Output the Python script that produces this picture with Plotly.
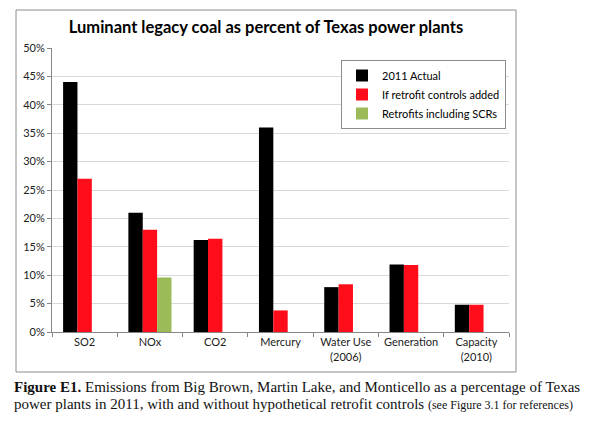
import plotly.graph_objects as go

categories = ["SO2", "NOx", "CO2", "Mercury", "Water Use<br>(2006)", "Generation", "Capacity<br>(2010)"]
actual_2011 = [44.0, 21.0, 16.2, 36.0, 7.9, 11.9, 4.8]
retrofit = [27.0, 18.0, 16.4, 3.8, 8.4, 11.8, 4.8]
retrofit_scr = [None, 9.6, None, None, None, None, None]
y_ticks = [0, 5, 10, 15, 20, 25, 30, 35, 40, 45, 50]
y_tick_labels = [f"{v}%" for v in y_ticks]

W, H = 607, 439
L, R, T, B = 52, 98, 48, 107
pw, ph = W - L - R, H - T - B

def px(x):
    return (x - L) / pw

def py(y):
    return (H - B - y) / ph

fig = go.Figure()
fig.add_trace(go.Bar(x=categories, y=actual_2011, name="2011 Actual", marker_color="#000000", marker_line_width=0))
fig.add_trace(go.Bar(x=categories, y=retrofit, name="If retrofit controls added", marker_color="#FF0D1A", marker_line_width=0))
fig.add_trace(go.Bar(x=categories, y=retrofit_scr, name="Retrofits including SCRs", marker_color="#9BBB59", marker_line_width=0))

font_sans = "Lato, 'Open Sans', sans-serif"
fig.update_layout(
    width=W, height=H,
    margin=dict(l=L, r=R, t=T, b=B),
    paper_bgcolor="white", plot_bgcolor="white",
    barmode="group", bargap=0.34, bargroupgap=0,
    font=dict(family=font_sans, size=11, color="#222222"),
    title=dict(text="<b>Luminant legacy coal as percent of Texas power plants</b>",
               x=266 / W, xanchor="center", y=1 - 27 / H, yanchor="middle",
               font=dict(family=font_sans, size=16.5, color="#000000")),
    legend=dict(x=px(341), y=py(60), xanchor="left", yanchor="top",
                bordercolor="#8C8C8C", borderwidth=1, bgcolor="white",
                font=dict(family=font_sans, size=11, color="#000000"),
                tracegroupgap=0, itemwidth=30),
    xaxis=dict(showline=True, linecolor="#868686", linewidth=1,
               ticks="outside", tickson="boundaries", ticklen=4, tickcolor="#868686",
               tickfont=dict(family=font_sans, size=11, color="#222222")),
    yaxis=dict(range=[0, 50], tickvals=y_ticks, ticktext=y_tick_labels,
               showline=True, linecolor="#868686", linewidth=1,
               showgrid=True, gridcolor="#D9D9D9", gridwidth=1,
               ticks="outside", ticklen=4, tickcolor="#868686",
               tickfont=dict(family=font_sans, size=11, color="#222222"),
               zeroline=False),
    shapes=[dict(type="rect", xref="paper", yref="paper",
                 x0=px(16), x1=px(516), y0=py(372), y1=py(10),
                 line=dict(color="#8C8C8C", width=1), fillcolor="rgba(0,0,0,0)", layer="below")],
)

serif = "'Liberation Serif', 'DejaVu Serif', serif"
fig.add_annotation(xref="paper", yref="paper", x=px(12), y=py(387), xanchor="left", yanchor="middle",
                   showarrow=False, align="left",
                   text="<b>Figure E1.</b> Emissions from Big Brown, Martin Lake, and Monticello as a percentage of Texas",
                   font=dict(family=serif, size=15, color="#111111"))
fig.add_annotation(xref="paper", yref="paper", x=px(12), y=py(404), xanchor="left", yanchor="middle",
                   showarrow=False, align="left",
                   text="power plants in 2011, with and without hypothetical retrofit controls <span style='font-size:12px'>(see Figure 3.1 for references)</span>",
                   font=dict(family=serif, size=15, color="#111111"))

fig.write_html("out.html", config={"displayModeBar": False},
               post_script="document.body.style.margin='0px';")
